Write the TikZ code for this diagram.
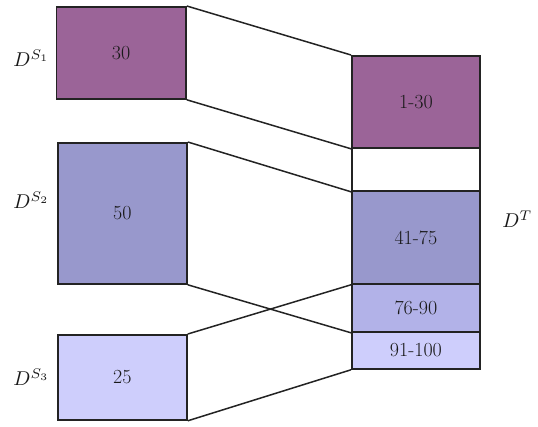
\documentclass[tikz,border=0pt]{standalone}
\usepackage{fontspec}
\definecolor{plum}{RGB}{155,100,152}
\definecolor{slate}{RGB}{152,152,204}
\definecolor{mist}{RGB}{178,178,232}
\definecolor{lilac}{RGB}{206,206,252}
\definecolor{edge}{RGB}{35,35,35}
\tikzset{
  blockbox/.style={draw=edge, line width=1.8pt, rectangle, inner sep=0pt,
    anchor=north west, text=black!90, font=\fontsize{20}{22}\selectfont},
  link/.style={draw=edge, line width=1.5pt},
  setlabel/.style={text=black!90, inner sep=0pt, scale=2.0}
}
\begin{document}
\begin{tikzpicture}[x=1pt, y=-1pt]
\useasboundingbox (0,0) rectangle (538,427);

% source blocks
\node[blockbox, fill=plum, minimum width=129.5pt, minimum height=92pt] (s1) at (55.5,6) {30};
\node[blockbox, fill=slate, minimum width=129pt, minimum height=141pt] (s2) at (57,142) {50};
\node[blockbox, fill=lilac, minimum width=129pt, minimum height=85pt] (s3) at (57,334) {25};

% target column
\node[blockbox, fill=plum, minimum width=128pt, minimum height=92pt] (t1) at (351,55) {1-30};
\node[blockbox, fill=white, minimum width=128pt, minimum height=43pt] (t0) at (351,147) {};
\node[blockbox, fill=slate, minimum width=128pt, minimum height=93pt] (t2) at (351,190) {41-75};
\node[blockbox, fill=mist, minimum width=128pt, minimum height=48pt] (t3) at (351,283) {76-90};
\node[blockbox, fill=lilac, minimum width=128pt, minimum height=37pt] (t4) at (351,331) {91-100};

% connectors
\draw[link] (s1.north east) -- (t1.north west);
\draw[link] (s1.south east) -- (t1.south west);
\draw[link] (s2.north east) -- (t0.south west);
\draw[link] (s2.south east) -- (t3.south west);
\draw[link] (s3.north east) -- (t2.south west);
\draw[link] (s3.south east) -- (t4.south west);

% set labels
\node[setlabel, anchor=west] (l1) at (13,58) {$D^{S_1}$};
\node[setlabel, anchor=west] (l2) at (13,200) {$D^{S_2}$};
\node[setlabel, anchor=west] (l3) at (13,377) {$D^{S_3}$};
\node[setlabel, anchor=west] (lt) at (502,219) {$D^{T}$};
\end{tikzpicture}
\end{document}
